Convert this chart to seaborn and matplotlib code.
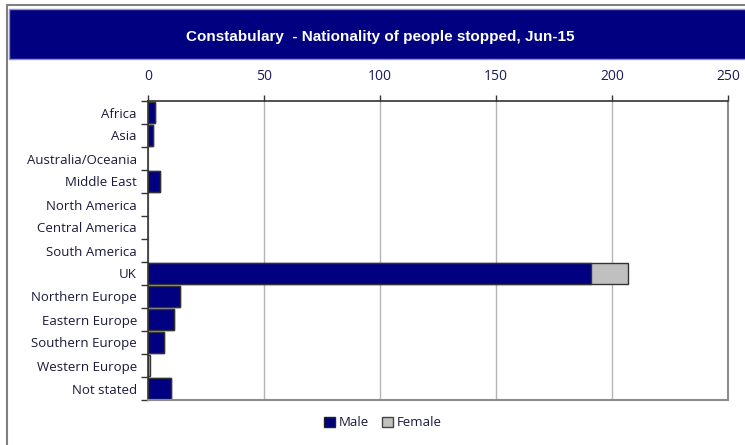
import numpy as np
import pandas as pd
import matplotlib
matplotlib.use("Agg")
import matplotlib.pyplot as plt
import seaborn as sns
from matplotlib.patches import Rectangle
from matplotlib.lines import Line2D
from matplotlib.ticker import FixedLocator

# Data
regions = ["Africa", "Asia", "Australia/Oceania", "Middle East", "North America",
           "Central America", "South America", "UK", "Northern Europe",
           "Eastern Europe", "Southern Europe", "Western Europe", "Not stated"]
male = [3, 2, 0, 5, 0, 0, 0, 191, 14, 11, 7, 0, 10]
female = [0, 0, 0, 0, 0, 0, 0, 16, 0, 0, 0, 1, 0]
x_ticks = [0, 50, 100, 150, 200, 250]

df = pd.DataFrame({"region": regions, "male": male, "female": female})
df["total"] = df["male"] + df["female"]

navy = "#000080"
grey_fill = "#c0c0c0"

sns.set_style("white")
plt.rcParams["font.family"] = ["Open Sans", "DejaVu Sans"]

fig = plt.figure(figsize=(7.45, 4.45), dpi=100)
ax = fig.add_axes([148 / 745, 1 - 400 / 445, 580 / 745, 299 / 445])

# stacked bars: total (female colour) underneath, male on top
sns.barplot(data=df, y="region", x="total", color=grey_fill, orient="h",
            width=0.87, edgecolor="#333333", linewidth=1.0, ax=ax)
sns.barplot(data=df, y="region", x="male", color=navy, orient="h",
            width=0.87, edgecolor="#333333", linewidth=1.0, ax=ax)
n = len(regions)
for i, p in enumerate(ax.patches):
    p.set_facecolor(grey_fill if i < n else navy)
    if p.get_width() == 0:
        p.set_visible(False)

ax.set_xlim(0, 250)
ax.set_ylim(n - 0.5, -0.5)
ax.set_xticks(x_ticks)
ax.xaxis.tick_top()
ax.xaxis.set_label_position("top")
ax.set_xlabel("")
ax.set_ylabel("")
ax.grid(axis="x", color="#b4b4b4", linewidth=1.0)
ax.set_axisbelow(True)
ax.tick_params(axis="x", top=True, length=4, width=1, color="#333333",
               labelsize=10, labelcolor="#1a1a5a", pad=8)
ax.tick_params(axis="y", which="major", length=0, labelsize=9.5,
               labelcolor="#1a1a3a", pad=8)
ax.yaxis.set_minor_locator(FixedLocator(np.arange(-0.5, n, 1)))
ax.tick_params(axis="y", which="minor", left=True, length=5, width=1,
               color="#333333")

for side in ["top", "left"]:
    ax.spines[side].set_color("#333333")
    ax.spines[side].set_linewidth(1.2)
for side in ["bottom", "right"]:
    ax.spines[side].set_color("#8c8c8c")
    ax.spines[side].set_linewidth(1.5)

# legend below the plot
handles = [Rectangle((0, 0), 1, 1, facecolor=navy, edgecolor="#222222"),
           Rectangle((0, 0), 1, 1, facecolor=grey_fill, edgecolor="#444444")]
fig.legend(handles, ["Male", "Female"], loc="center", ncol=2,
           bbox_to_anchor=(383 / 745, 1 - 423 / 445), frameon=False,
           fontsize=9.5, handlelength=0.8, handleheight=0.8,
           handletextpad=0.3, columnspacing=1.0, labelcolor="#1a1a3a")

# outer frame
fig.add_artist(Line2D([7 / 745, 7 / 745], [0, 1 - 5 / 445],
                      transform=fig.transFigure, color="#808080", linewidth=1.5))
fig.add_artist(Line2D([7 / 745, 1], [1 - 5 / 445, 1 - 5 / 445],
                      transform=fig.transFigure, color="#808080", linewidth=1.5))

# title band
fig.add_artist(Rectangle((9 / 745, 1 - 59 / 445), 740 / 745, 50 / 445,
                         transform=fig.transFigure, facecolor=navy,
                         edgecolor="#9090c8", linewidth=1.0))
fig.text(380 / 745, 1 - 37 / 445, "Constabulary  - Nationality of people stopped, Jun-15",
         ha="center", va="center", color="white", fontsize=11, fontweight="bold",
         family=["Liberation Sans Narrow", "Liberation Sans", "DejaVu Sans"])

fig.savefig("out.png", dpi=100)
